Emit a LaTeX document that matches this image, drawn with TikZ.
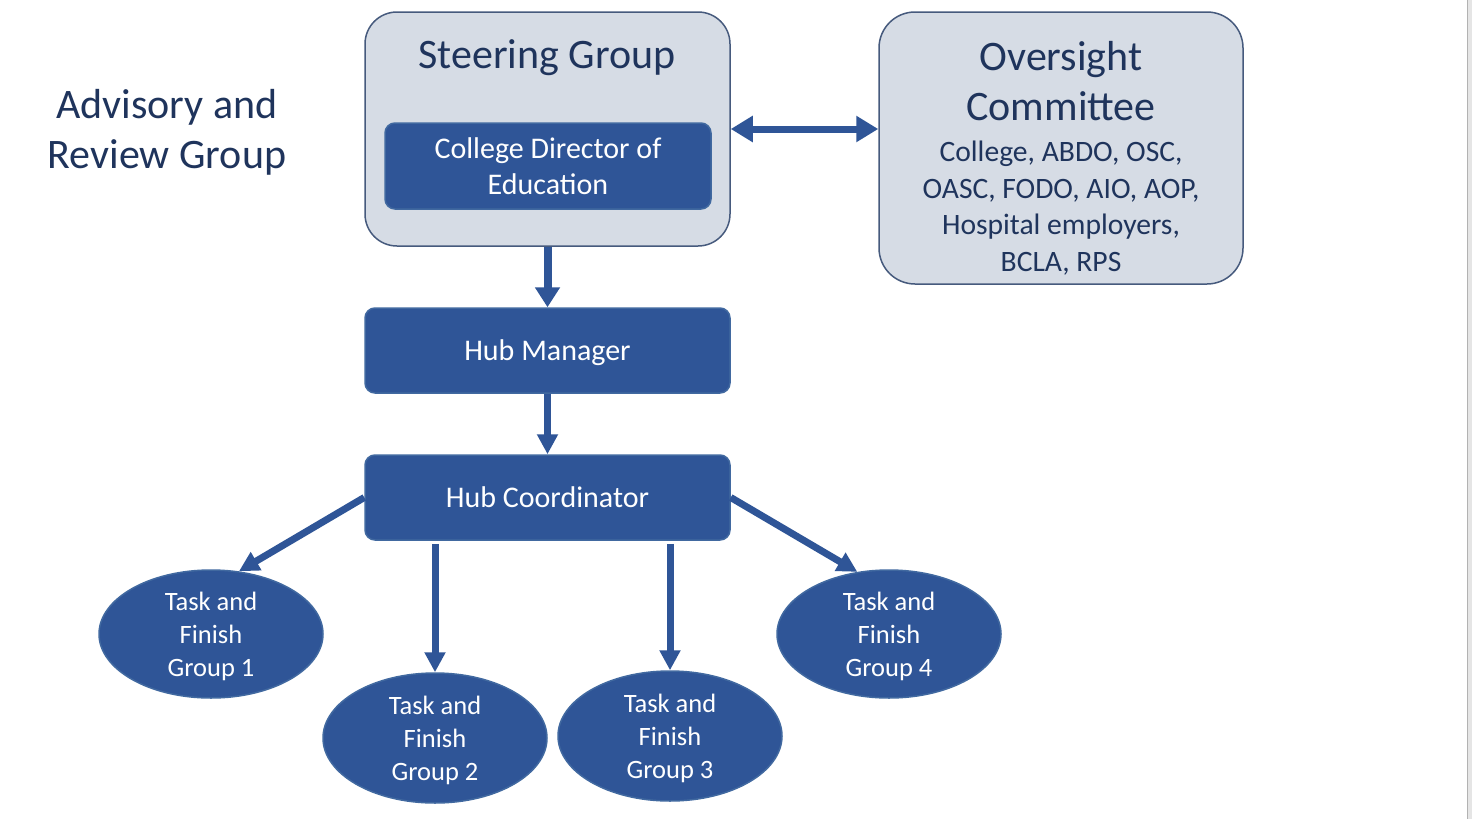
\documentclass[tikz,border=0pt]{standalone}
\usepackage{fontspec}
\setmainfont{Carlito}
\usetikzlibrary{shapes.geometric,arrows.meta}
\definecolor{hubblue}{RGB}{47,85,151}
\definecolor{hubedge}{RGB}{65,105,160}
\definecolor{palefill}{RGB}{214,220,229}
\definecolor{paleedge}{RGB}{70,90,125}
\definecolor{navytext}{RGB}{31,52,92}
\tikzset{
  palebox/.style={draw=paleedge, fill=palefill, line width=1.5pt, rounded corners=32pt},
  bluebox/.style={draw=hubedge, fill=hubblue, line width=1.5pt, rounded corners=10pt, text=white, align=center, text depth=0pt, font=\fontsize{30}{36}\selectfont},
  taskblob/.style={ellipse, draw=hubedge, fill=hubblue, line width=1.5pt, text=white, align=center, text depth=-1pt, minimum width=224pt, minimum height=128pt, inner sep=0pt, font=\fontsize{26.5}{33}\selectfont},
  link/.style={draw=hubblue, line width=7pt, -{Triangle[width=20pt,length=20pt]}},
}
\begin{document}
\begin{tikzpicture}[x=1pt,y=-1pt]
  \useasboundingbox (0,0) rectangle (1472,819);
  \fill[white] (0,0) rectangle (1472,819);
  % scrollbar strip at the right edge
  \fill[black!10] (1467,0) rectangle (1472,819);
  \draw[black!30, line width=1pt] (1467.5,0) -- (1467.5,819);

  \node[text=navytext, align=center, font=\fontsize{42}{50}\selectfont] (advisory) at (167,132) {Advisory and\\Review Group};

  \node[palebox, minimum width=365pt, minimum height=234pt] (steer) at (547.5,129) {};
  \node[text=navytext, anchor=base, font=\fontsize{42}{50}\selectfont] (steertitle) at (547,68) {Steering Group};
  \node[bluebox, minimum width=326pt, minimum height=86pt] (director) at (548,166) {College Director of\\Education};

  \node[palebox, minimum width=364pt, minimum height=272pt, rounded corners=36pt] (over) at (1061,148) {};
  \node[text=navytext, align=center, font=\fontsize{42}{50}\selectfont] (overtitle) at (1061,81) {Oversight\\Committee};
  \node[text=navytext, align=center, font=\fontsize{29.6}{36.7}\selectfont] (overbody) at (1061,208) {College, ABDO, OSC,\\OASC, FODO, AIO, AOP,\\Hospital employers,\\BCLA, RPS};

  \node[bluebox, minimum width=365pt, minimum height=85pt] (hubman) at (547.5,350.5) {Hub Manager};
  \node[bluebox, minimum width=365pt, minimum height=85pt] (hubco) at (547.5,497.5) {Hub Coordinator};

  \node[taskblob] (task1) at (211,634) {Task and\\Finish\\Group 1};
  \node[taskblob, minimum height=130pt] (task2) at (435,738) {Task and\\Finish\\Group 2};
  \node[taskblob, minimum height=130pt] (task3) at (670,736) {Task and\\Finish\\Group 3};
  \node[taskblob] (task4) at (889,634) {Task and\\Finish\\Group 4};

  \draw[link, line width=8pt, -{Triangle[width=24pt,length=20pt]}] (steer) -- (hubman);
  \draw[link, {Triangle[width=25pt,length=22pt]}-{Triangle[width=25pt,length=22pt]}] (steer.east) -- (over.west |- steer.east);
  \draw[link] (hubman) -- (hubco);
  \draw[link] (hubco.west) -- (task1.66);
  \draw[link] (hubco.east) -- (task4.117);
  \draw[link, shorten <=3pt] (hubco.south -| task2) -- (task2);
  \draw[link, shorten <=3pt] (hubco.south -| task3) -- (task3);
\end{tikzpicture}
\end{document}
